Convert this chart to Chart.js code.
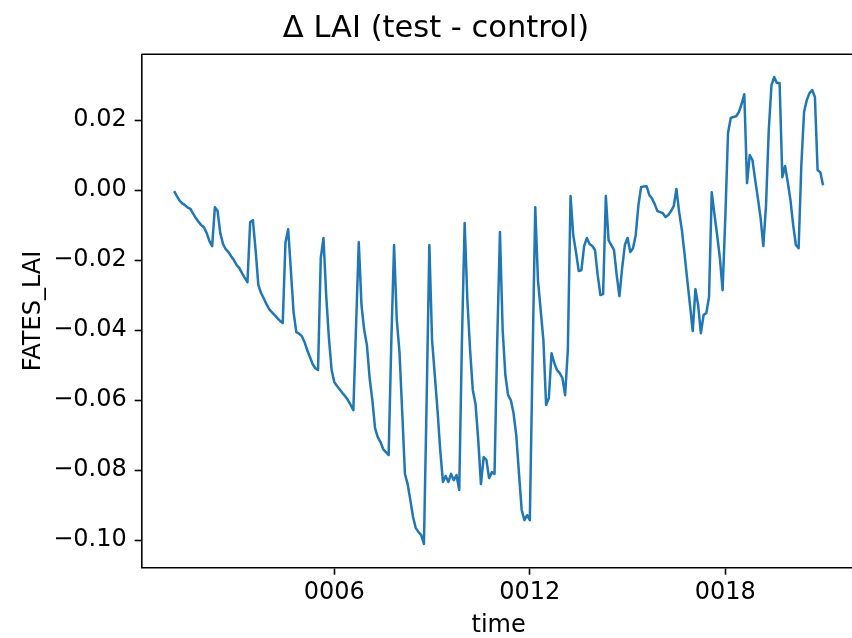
<!DOCTYPE html>
<html>
<head>
<meta charset="utf-8">
<title>Δ LAI (test - control)</title>
<script src="https://cdn.jsdelivr.net/npm/chart.js@4/dist/chart.umd.min.js"></script>
<style>
  html, body { margin: 0; padding: 0; background: #fff; overflow: hidden; }
  #wrap { position: absolute; left: 0; top: 0; width: 872px; height: 638px; }
</style>
</head>
<body>
<div id="wrap"><canvas id="laiChart"></canvas></div>
<script>
// monthly FATES_LAI difference (test - control), first stamp 0001-02
const lai = [
  -0.0003, -0.0017, -0.0030, -0.0038, -0.0043, -0.0050, -0.0054, -0.0067, -0.0080, -0.0091, -0.0100, -0.0107,
  -0.0123, -0.0146, -0.0160, -0.0049, -0.0060, -0.0123, -0.0154, -0.0169, -0.0177, -0.0189, -0.0200, -0.0214,
  -0.0223, -0.0237, -0.0251, -0.0263, -0.0091, -0.0086, -0.0171, -0.0271, -0.0294, -0.0309, -0.0326, -0.0340,
  -0.0349, -0.0357, -0.0366, -0.0374, -0.0380, -0.0150, -0.0112, -0.0230, -0.0350, -0.0406, -0.0410, -0.0417,
  -0.0434, -0.0457, -0.0477, -0.0497, -0.0509, -0.0514, -0.0194, -0.0137, -0.0300, -0.0423, -0.0514, -0.0549,
  -0.0560, -0.0570, -0.0580, -0.0589, -0.0600, -0.0614, -0.0629, -0.0389, -0.0149, -0.0329, -0.0400, -0.0443,
  -0.0537, -0.0600, -0.0680, -0.0706, -0.0720, -0.0740, -0.0749, -0.0757, -0.0429, -0.0157, -0.0371, -0.0463,
  -0.0634, -0.0811, -0.0840, -0.0886, -0.0934, -0.0966, -0.0977, -0.0986, -0.1011, -0.0600, -0.0157, -0.0429,
  -0.0529, -0.0629, -0.0743, -0.0834, -0.0817, -0.0834, -0.0811, -0.0829, -0.0814, -0.0857, -0.0429, -0.0094,
  -0.0314, -0.0457, -0.0571, -0.0611, -0.0714, -0.0840, -0.0763, -0.0771, -0.0823, -0.0806, -0.0811, -0.0429,
  -0.0120, -0.0400, -0.0529, -0.0586, -0.0600, -0.0637, -0.0700, -0.0809, -0.0914, -0.0943, -0.0929, -0.0943,
  -0.0486, -0.0049, -0.0257, -0.0343, -0.0429, -0.0614, -0.0594, -0.0466, -0.0494, -0.0514, -0.0523, -0.0537,
  -0.0586, -0.0457, -0.0017, -0.0129, -0.0177, -0.0231, -0.0229, -0.0160, -0.0137, -0.0154, -0.0160, -0.0171,
  -0.0243, -0.0300, -0.0297, -0.0017, -0.0143, -0.0157, -0.0171, -0.0243, -0.0303, -0.0223, -0.0157, -0.0137,
  -0.0177, -0.0166, -0.0129, -0.0043, 0.0009, 0.0010, 0.0011, -0.0014, -0.0024, -0.0040, -0.0060, -0.0063,
  -0.0066, -0.0077, -0.0071, -0.0060, -0.0046, 0.0003, -0.0063, -0.0114, -0.0183, -0.0257, -0.0329, -0.0403,
  -0.0283, -0.0329, -0.0409, -0.0357, -0.0351, -0.0306, -0.0006, -0.0069, -0.0129, -0.0194, -0.0286, -0.0080,
  0.0163, 0.0206, 0.0209, 0.0211, 0.0223, 0.0246, 0.0274, 0.0020, 0.0100, 0.0086, 0.0029, -0.0023,
  -0.0080, -0.0160, -0.0043, 0.0171, 0.0300, 0.0323, 0.0306, 0.0306, 0.0037, 0.0069, 0.0023, -0.0029,
  -0.0100, -0.0157, -0.0166, 0.0071, 0.0223, 0.0257, 0.0277, 0.0286, 0.0266, 0.0057, 0.0051, 0.0014
];

const yTicks = [-0.10, -0.08, -0.06, -0.04, -0.02, 0.00, 0.02];
const xTickYears = [6, 12, 18];
const xTickLabels = ['0006', '0012', '0018'];

const titleText = 'Δ LAI (test - control)';
const xTitle = 'time';
const yTitle = 'FATES_LAI';

// time in years: one stamp per month, the first one is 0001-02
const time = lai.map((v, i) => 1 + (i + 1) / 12);
const points = lai.map((v, i) => ({ x: time[i], y: v }));

const FONT = '"DejaVu Sans", "Liberation Sans", sans-serif';

// top/right spines + a figure-centred title (matplotlib suptitle style)
const frame = {
  id: 'frame',
  afterDraw(chart) {
    const { ctx, chartArea: a } = chart;
    ctx.save();
    ctx.strokeStyle = '#000';
    ctx.lineWidth = 1.6;
    ctx.beginPath();
    ctx.moveTo(a.left, a.top);
    ctx.lineTo(a.right, a.top);
    ctx.lineTo(a.right, a.bottom);
    ctx.stroke();
    ctx.fillStyle = '#000';
    ctx.font = '30.5px ' + FONT;
    ctx.textAlign = 'center';
    ctx.textBaseline = 'middle';
    ctx.fillText(titleText, 436, 29);
    ctx.restore();
  }
};

new Chart(document.getElementById('laiChart'), {
  type: 'line',
  data: {
    datasets: [{
      label: yTitle,
      data: points,
      borderColor: '#1f77b4',
      borderWidth: 2.5,
      borderJoinStyle: 'round',
      pointRadius: 0,
      tension: 0,
      fill: false
    }]
  },
  options: {
    responsive: true,
    maintainAspectRatio: false,
    animation: false,
    layout: { padding: { top: 54.3, right: 16.5, left: 0, bottom: 0 } },
    plugins: {
      legend: { display: false },
      tooltip: { enabled: false },
      title: { display: false }
    },
    scales: {
      x: {
        type: 'linear',
        min: 0.0875,
        max: 21.996,
        afterFit: (s) => { s.height = 70.3; },
        afterBuildTicks: (s) => { s.ticks = xTickYears.map(v => ({ value: v })); },
        border: { display: true, color: '#000', width: 1.6 },
        grid: { display: true, drawOnChartArea: false, tickLength: 7, tickColor: '#000', tickWidth: 1.6 },
        ticks: {
          color: '#000',
          padding: 3.3,
          maxRotation: 0,
          font: { family: FONT, size: 24 },
          callback: (v) => xTickLabels[xTickYears.indexOf(v)]
        },
        title: {
          display: true,
          text: xTitle,
          color: '#000',
          font: { family: FONT, size: 24, lineHeight: 1 },
          padding: { top: 0, bottom: 0 }
        }
      },
      y: {
        min: -0.1079,
        max: 0.0388,
        afterFit: (s) => { s.width = 141.7; },
        afterBuildTicks: (s) => { s.ticks = yTicks.map(v => ({ value: v })); },
        border: { display: true, color: '#000', width: 1.6 },
        grid: { display: true, drawOnChartArea: false, tickLength: 7, tickColor: '#000', tickWidth: 1.6 },
        ticks: {
          color: '#000',
          padding: 8,
          font: { family: FONT, size: 24 },
          callback: (v) => Math.abs(v) < 1e-9 ? '0.00' : v.toFixed(2).replace('-', '\u2212')
        },
        title: {
          display: true,
          text: yTitle,
          color: '#000',
          font: { family: FONT, size: 24, lineHeight: 1 },
          padding: { top: 21.5, bottom: 0 }
        }
      }
    }
  },
  plugins: [frame]
});
</script>
</body>
</html>
